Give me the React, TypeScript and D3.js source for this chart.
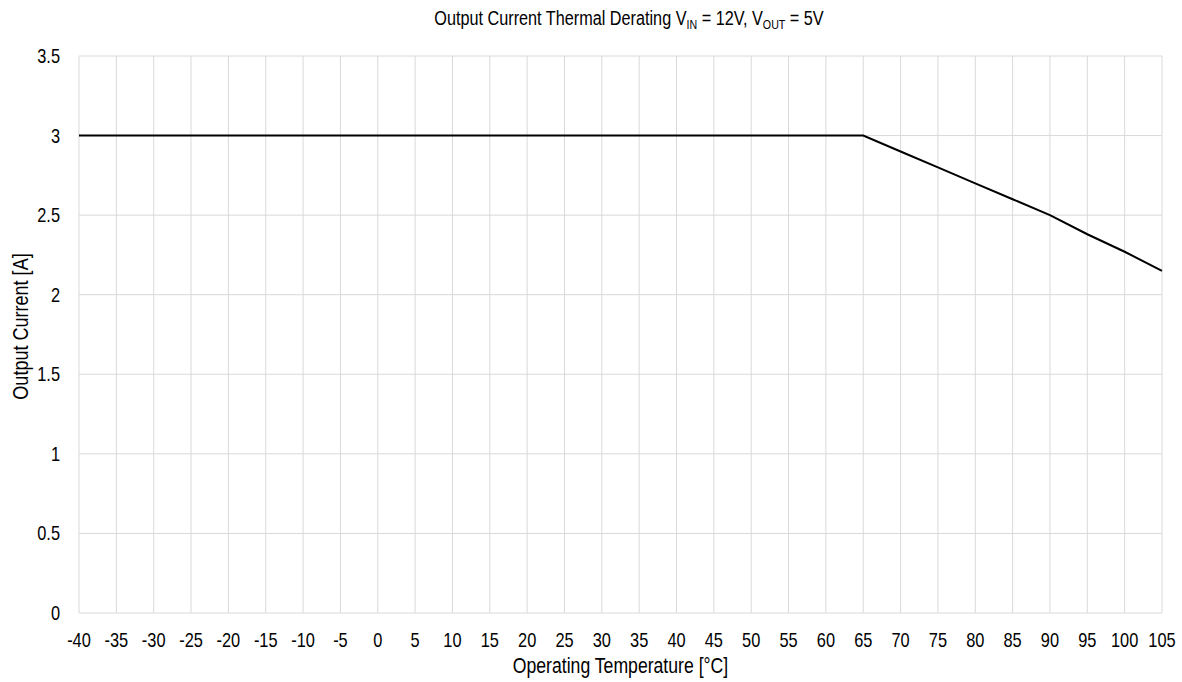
import React from "react";
import * as d3 from "d3";

const temps = [-40, 65, 70, 75, 80, 85, 90, 95, 100, 105];
const current = [3, 3, 2.9, 2.8, 2.7, 2.6, 2.5, 2.38, 2.27, 2.15];
const xTicks = d3.range(-40, 106, 5);
const yTicks = [0, 0.5, 1, 1.5, 2, 2.5, 3, 3.5];

const W = 1182;
const H = 682;
const margin = { top: 56, right: 20, bottom: 69, left: 79 };
const font = "'Liberation Sans', Arial, sans-serif";
const NARROW = 0.82; // fake Arial Narrow

// text squeezed horizontally like a narrow face
const NText = ({ x, y, anchor = "middle", size = 20, rotate = 0, children }: any) => (
  <g transform={`translate(${x},${y}) rotate(${rotate}) scale(${NARROW},1)`}>
    <text textAnchor={anchor} fontSize={size} fill="#000">
      {children}
    </text>
  </g>
);

const App = () => {
  const x = d3.scaleLinear().domain([-40, 105]).range([margin.left, W - margin.right]);
  const y = d3.scaleLinear().domain([0, 3.5]).range([H - margin.bottom, margin.top]);

  const pts: [number, number][] = temps.map((t, i) => [t, current[i]]);
  const line = d3
    .line<[number, number]>()
    .x((d) => x(d[0]))
    .y((d) => y(d[1]));

  const grid = "#d9d9d9";
  const midX = (x(-40) + x(105)) / 2;
  const midY = (y(0) + y(3.5)) / 2;

  return (
    <svg
      width={W}
      height={H}
      style={{ position: "absolute", left: 0, top: 0, background: "#fff" }}
      fontFamily={font}
    >
      {/* grid */}
      <g>
        {xTicks.map((t) => (
          <line key={"vx" + t} x1={x(t)} x2={x(t)} y1={y(3.5)} y2={y(0)} stroke={grid} strokeWidth={1} />
        ))}
        {yTicks.map((t) => (
          <line key={"hy" + t} x1={x(-40)} x2={x(105)} y1={y(t)} y2={y(t)} stroke={grid} strokeWidth={1} />
        ))}
      </g>

      {/* tick labels */}
      {xTicks.map((t) => (
        <NText key={"tx" + t} x={x(t)} y={y(0) + 34}>
          {t}
        </NText>
      ))}
      {yTicks.map((t) => (
        <NText key={"ty" + t} x={margin.left - 19} y={y(t) + 7} anchor="end">
          {t}
        </NText>
      ))}

      {/* data */}
      <path d={line(pts) || ""} fill="none" stroke="#000" strokeWidth={2} />

      {/* title */}
      <NText x={629} y={25} size={19.8}>
        Output Current Thermal Derating V
        <tspan fontSize={13} dy={4}>IN</tspan>
        <tspan dy={-4}> = 12V, V</tspan>
        <tspan fontSize={13} dy={4}>OUT</tspan>
        <tspan dy={-4}> = 5V</tspan>
      </NText>

      {/* axis titles */}
      <NText x={midX} y={673} size={21.5}>
        Operating Temperature [°C]
      </NText>
      <NText x={28} y={midY - 8} size={22} rotate={-90}>
        Output Current [A]
      </NText>
    </svg>
  );
};

export default App;
